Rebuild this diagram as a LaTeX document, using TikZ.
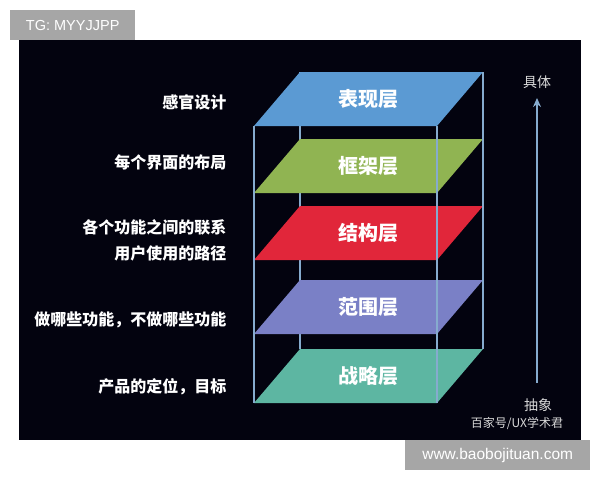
\documentclass[tikz,border=0pt]{standalone}
\usepackage{fontspec}
\usetikzlibrary{arrows.meta}
\setmainfont{Liberation Sans}
\newfontfamily\cjk{Noto Sans CJK SC}
\definecolor{panel}{HTML}{03030F}
\definecolor{tagGray}{HTML}{A6A6A6}
\definecolor{edge}{HTML}{86ABCE}
\definecolor{lyBlue}{HTML}{5B9AD3}
\definecolor{lyGreen}{HTML}{90B452}
\definecolor{lyRed}{HTML}{E1263A}
\definecolor{lyPurple}{HTML}{7A80C6}
\definecolor{lyTeal}{HTML}{5DB6A2}
\tikzset{
  tag/.style={fill=tagGray,text=white,inner sep=0pt,anchor=north west,font=\fontsize{14.5}{16}\selectfont},
  layer/.style={text=white,font=\cjk\bfseries\fontsize{20}{22}\selectfont},
  note/.style={text=white,anchor=east,font=\cjk\bfseries\fontsize{16}{18}\selectfont},
  side/.style={text=white!85!black,font=\cjk\fontsize{14}{16}\selectfont},
  boxline/.style={edge,line width=1.6pt}
}
\begin{document}
\begin{tikzpicture}[x=1pt,y=-1pt,>=stealth,line join=round]
\useasboundingbox (0,0) rectangle (600,480);
\fill[white] (0,0) rectangle (600,480);
\fill[panel] (19,40) rectangle (581,440);
\node[tag,minimum width=125pt,minimum height=30pt] (tg) at (10,10) {TG: MYYJJPP};
\node[tag,minimum width=185pt,minimum height=30pt,font=\fontsize{15.5}{17}\selectfont] (site) at (405,440) {www.baobojituan.com};
% hidden back edge
\draw[boxline] (300,72)--(300,349);
% the five layers
\foreach \yf/\col/\name [count=\i] in {126/lyBlue/表现层,193/lyGreen/框架层,260/lyRed/结构层,334/lyPurple/范围层,403/lyTeal/战略层}
{
\fill[\col] (254,\yf) -- (437,\yf) -- (483,\yf-54) -- (300,\yf-54) -- cycle;
\node[layer] (L\i) at (368.5,\yf-27) {\name};
}
% box edges
\coordinate (flt) at (254,126);
\coordinate (flb) at (254,403);
\coordinate (frt) at (437,126);
\coordinate (frb) at (437,403);
\coordinate (brt) at (483,72);
\coordinate (brb) at (483,349);
\draw[boxline] (flt)--(flb);
\draw[boxline] (frt)--(frb);
\draw[boxline] (brt)--(brb);
% notes on the left
\node[note] (n1) at (230,102) {感官设计};
\node[note] (n2) at (230,162) {每个界面的布局};
\node[note] (n3) at (230,227) {各个功能之间的联系};
\node[note] (n4) at (230,253) {用户使用的路径};
\node[note] (n5) at (230,320) {做哪些功能，不做哪些功能};
\node[note] (n6) at (230,387) {产品的定位，目标};
% axis
\node[side] (top) at (537,82) {具体};
\node[side] (bot) at (538,405) {抽象};
\node[side,font=\cjk\fontsize{12}{14}\selectfont] (src) at (517,423) {百家号/UX学术君};
\coordinate (ax0) at (537,383);
\coordinate (ax1) at (537,98);
\draw[boxline,-{Stealth[length=9pt,width=8pt]}] (ax0)--(ax1);
\end{tikzpicture}
\end{document}
